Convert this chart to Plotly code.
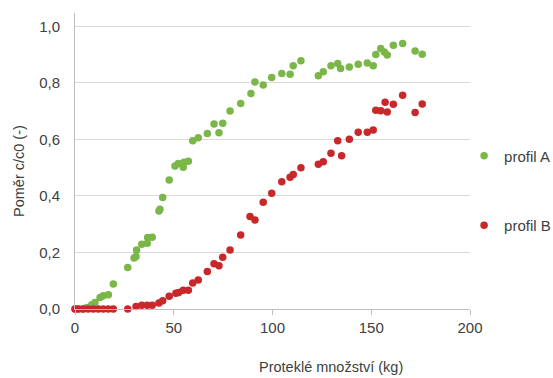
import plotly.graph_objects as go

# profil A (green)
a_x = [0, 2, 4, 6, 8.5, 10.1, 12.7, 14.3, 16.9, 19.4, 26.7, 29.9, 30.9, 31.2, 33.8, 36.6, 36.8, 39.1,
       42.5, 43.0, 44.4, 47.7, 50.6, 52.3, 54.8, 55.2, 57.4, 59.6, 62.4, 67.0, 70.4, 72.9, 74.8,
       78.5, 83.9, 89.1, 91.1, 95.3, 99.6, 104.7, 108.9, 110.5, 114.4, 123.2, 125.7, 129.6, 133.0,
       134.5, 138.9, 143.4, 148.0, 151.0, 152.3, 154.8, 156.6, 158.1, 161.2, 165.9, 172.2, 175.8]
a_y = [0, 0, 0, 0.005, 0.015, 0.023, 0.041, 0.047, 0.05, 0.088, 0.147, 0.18, 0.186, 0.209, 0.229, 0.233,
       0.253, 0.254, 0.347, 0.353, 0.394, 0.456, 0.506, 0.515, 0.501, 0.519, 0.523, 0.595, 0.606,
       0.621, 0.654, 0.623, 0.657, 0.70, 0.727, 0.762, 0.803, 0.792, 0.819, 0.833, 0.83, 0.86, 0.878,
       0.825, 0.839, 0.86, 0.868, 0.851, 0.856, 0.866, 0.87, 0.86, 0.90, 0.921, 0.909, 0.898, 0.933,
       0.939, 0.913, 0.901]

# profil B (red)
b_x = [0, 1.7, 4.2, 6.7, 9.3, 11.8, 14.3, 16.9, 19.4, 26.7, 30.9, 33.8, 36.6, 39.1, 42.5, 44.4, 47.7,
       51.1, 52.5, 54.8, 57.4, 59.6, 62.4, 67.0, 70.4, 72.9, 74.8, 78.5, 83.9, 88.6, 91.1, 95.3, 99.6,
       104.7, 108.9, 110.5, 114.4, 123.2, 125.7, 129.6, 133.0, 135.0, 138.9, 143.4, 148.0, 151.0,
       152.3, 154.8, 157.0, 158.1, 161.2, 165.9, 172.2, 175.8]
b_y = [0, 0, 0, 0, 0, 0, 0, 0, 0, 0, 0.009, 0.013, 0.013, 0.013, 0.021, 0.029, 0.045, 0.056, 0.058,
       0.066, 0.066, 0.092, 0.103, 0.133, 0.16, 0.153, 0.183, 0.209, 0.262, 0.327, 0.315, 0.378, 0.409,
       0.45, 0.466, 0.476, 0.50, 0.512, 0.521, 0.551, 0.595, 0.542, 0.60, 0.625, 0.625, 0.633, 0.703,
       0.701, 0.731, 0.697, 0.724, 0.756, 0.695, 0.725]

x_ticks = [0, 50, 100, 150, 200]
y_ticks = [0, 0.2, 0.4, 0.6, 0.8, 1.0]

GREEN = "#7ab648"
RED = "#c8282a"
FONT = "Liberation Sans, Arial, sans-serif"
TXT = "#404040"

# plot area in pixels
L, R, T, B = 75, 470, 13, 309
W, H = R - L, B - T

fig = go.Figure()
fig.add_trace(go.Scatter(x=a_x, y=a_y, mode="markers", name="profil A", legendgroup="a",
                         marker=dict(color=GREEN, size=7.5), cliponaxis=False))
fig.add_trace(go.Scatter(x=b_x, y=b_y, mode="markers", name="profil B", legendgroup="b",
                         marker=dict(color=RED, size=7.5), cliponaxis=False))

fig.update_layout(
    width=553, height=378,
    margin=dict(l=L, r=553 - R, t=T, b=378 - B, autoexpand=False),
    paper_bgcolor="white", plot_bgcolor="white",
    separators=", ",
    font=dict(family=FONT, size=15, color=TXT),
    showlegend=True,
    legend=dict(x=0.985, xanchor="left", y=0.40, yanchor="middle", tracegroupgap=47,
                font=dict(size=15, color=TXT), bgcolor="rgba(0,0,0,0)"),
    xaxis=dict(range=[0, 200], tickvals=x_ticks, tickformat=".0f", showgrid=False,
               showline=True, linecolor="#bfbfbf", linewidth=1, ticks="outside",
               tickcolor="#bfbfbf", ticklen=5, zeroline=False, automargin=False,
               tickfont=dict(size=15, color=TXT)),
    yaxis=dict(range=[0, 1.047], tickvals=y_ticks, tickformat=".1f", showgrid=True,
               gridcolor="#d9d9d9", gridwidth=1, showline=True, linecolor="#bfbfbf",
               linewidth=1, zeroline=False, ticks="", ticklabelstandoff=11, automargin=False,
               tickfont=dict(size=15, color=TXT)),
    annotations=[
        dict(text="Proteklé množství (kg)", xref="paper", yref="paper",
             x=(331 - L) / W, y=-(367 - B) / H, xanchor="center", yanchor="middle",
             showarrow=False, font=dict(family=FONT, size=14.5, color=TXT)),
        dict(text="Poměr c/c0 (-)", xref="paper", yref="paper", textangle=-90,
             x=(19 - L) / W, y=(B - 171) / H, xanchor="center", yanchor="middle",
             showarrow=False, font=dict(family=FONT, size=14.5, color=TXT)),
    ],
)

fig.write_html("out.html", config={"displayModeBar": False},
               post_script="document.body.style.margin='0';document.body.style.overflow='hidden';")
